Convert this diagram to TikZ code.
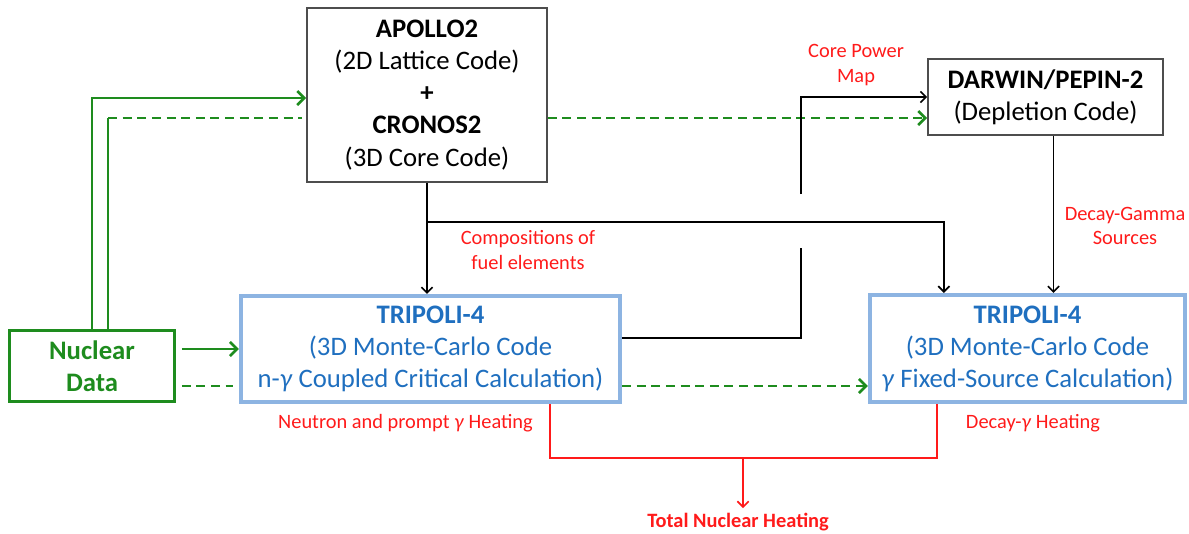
\documentclass[tikz,border=0pt]{standalone}
\usepackage{fontspec}
\setmainfont{Carlito}
\usepackage{tikz}
\usetikzlibrary{arrows.meta}
\definecolor{vert}{HTML}{1E8C1E}
\definecolor{bleu}{HTML}{1F6FBF}
\definecolor{bleuclair}{HTML}{8DB4E2}
\definecolor{rouge}{HTML}{FF1A1A}
\definecolor{gris}{HTML}{4D4D4D}
\newcommand{\boxfont}{\fontsize{19}{22.8}\selectfont}
\newcommand{\labfont}{\fontsize{14.5}{17.5}\selectfont}

\begin{document}
\begin{tikzpicture}[x=0.025cm, y=-0.025cm,
    >={Straight Barb[length=4pt,width=8pt]},
    codebox/.style={draw=gris, line width=1.1pt, align=center, inner sep=0pt, font=\boxfont},
    montecarlo/.style={draw=bleuclair, line width=2.9pt, text=bleu, align=center, inner sep=0pt,
      font=\boxfont, minimum width=9.475cm},
    lab/.style={text=rouge, align=center, font=\labfont},
    noir/.style={black, line width=1.2pt},
    rline/.style={rouge, line width=1.2pt},
    vline/.style={vert, line width=1.9pt},
    vdash/.style={dash pattern=on 6.4pt off 4pt},
    vtip/.style={-{Straight Barb[length=5pt,width=10pt]}}]
    \useasboundingbox (0,0) rectangle (1189,533);
    % codes
    \node[codebox, minimum width=6cm, minimum height=4.35cm] (apollo) at (427,95)
      {\textbf{APOLLO2}\\(2D Lattice Code)\\\textbf{+}\\\textbf{CRONOS2}\\(3D Core Code)};
    \node[codebox, minimum width=5.875cm, minimum height=1.9cm] (darwin) at (1045.5,97)
      {\textbf{DARWIN/PEPIN-2}\\(Depletion Code)};
    \node[draw=vert, line width=1.9pt, text=vert, font=\boxfont\bfseries, align=center, inner sep=0pt,
      minimum width=4.125cm, minimum height=1.775cm] (nd) at (92,366) {Nuclear\\Data};
    \node[montecarlo, minimum height=2.65cm] (t1) at (430.5,349)
      {\textbf{TRIPOLI-4}\\(3D Monte-Carlo Code\\n-\textit{γ} Coupled Critical Calculation)};
    \node[montecarlo, minimum width=7.875cm, minimum height=2.675cm] (t2) at (1027.5,348.5)
      {\textbf{TRIPOLI-4}\\(3D Monte-Carlo Code\\\textit{γ} Fixed-Source Calculation)};
    % labels
    \node[lab] (cpm) at (856,65) {Core Power\\Map};
    \node[lab] (comp) at (528,250) {Compositions of\\fuel elements};
    \node[lab] (dgs) at (1125,226) {Decay-Gamma\\Sources};
    \node[lab] (nph) at (405.5,423) {Neutron and prompt \textit{γ} Heating};
    \node[lab] (dh) at (1033,423) {Decay-\textit{γ} Heating};
    \node[lab, font=\labfont\bfseries] (total) at (738,522) {Total Nuclear Heating};
    % nuclear data
    \draw[vline, vtip] (nd.north) |- ([yshift=-0.075cm]apollo.west);
    \coordinate (dn) at ([xshift=0.4cm]nd.north);
    \coordinate (dw) at ([yshift=-0.575cm]apollo.west);
    \draw[vline] (dn) -- (dn |- dw);
    \draw[vline, vdash] (dn |- dw) -- ([xshift=-0.1cm]dw);
    \draw[vline, vdash, vtip] (apollo.east |- dw) -- (darwin.west |- dw);
    \draw[vline, vtip, shorten <=0.15cm] (nd.east |- t1.west) -- (t1.west);
    \coordinate (gd) at ([yshift=-0.5cm]nd.east);
    \draw[vline, vdash, shorten <=0.15cm, shorten >=0.15cm] (gd) -- (t1.west |- gd);
    \draw[vline, vdash, vtip] (t1.east |- gd) -- (t2.west |- gd);
    % compositions and power map
    \draw[noir, ->] (apollo.south) -- (apollo.south |- t1.north);
    \coordinate (br) at ([yshift=-0.975cm]apollo.south);
    \draw[noir, ->] (br) -| ([xshift=-2.09cm]t2.north);
    \coordinate (hoplo) at (801,248);
    \coordinate (hophi) at (801,194);
    \draw[noir] ([yshift=0.275cm]t1.east) -| (hoplo);
    \draw[noir, ->] (hophi) |- (darwin.west);
    \coordinate (ds) at ([xshift=0.2cm]darwin.south);
    \draw[noir, ->] (ds) -- (ds |- t2.north);
    % heating
    \coordinate (rbus) at (743,458);
    \draw[rline] ([xshift=2.99cm]t1.south) |- (rbus) -| ([xshift=-2.26cm]t2.south);
    \draw[rline, ->] (rbus) -- (rbus |- total.north);
\end{tikzpicture}
\end{document}
